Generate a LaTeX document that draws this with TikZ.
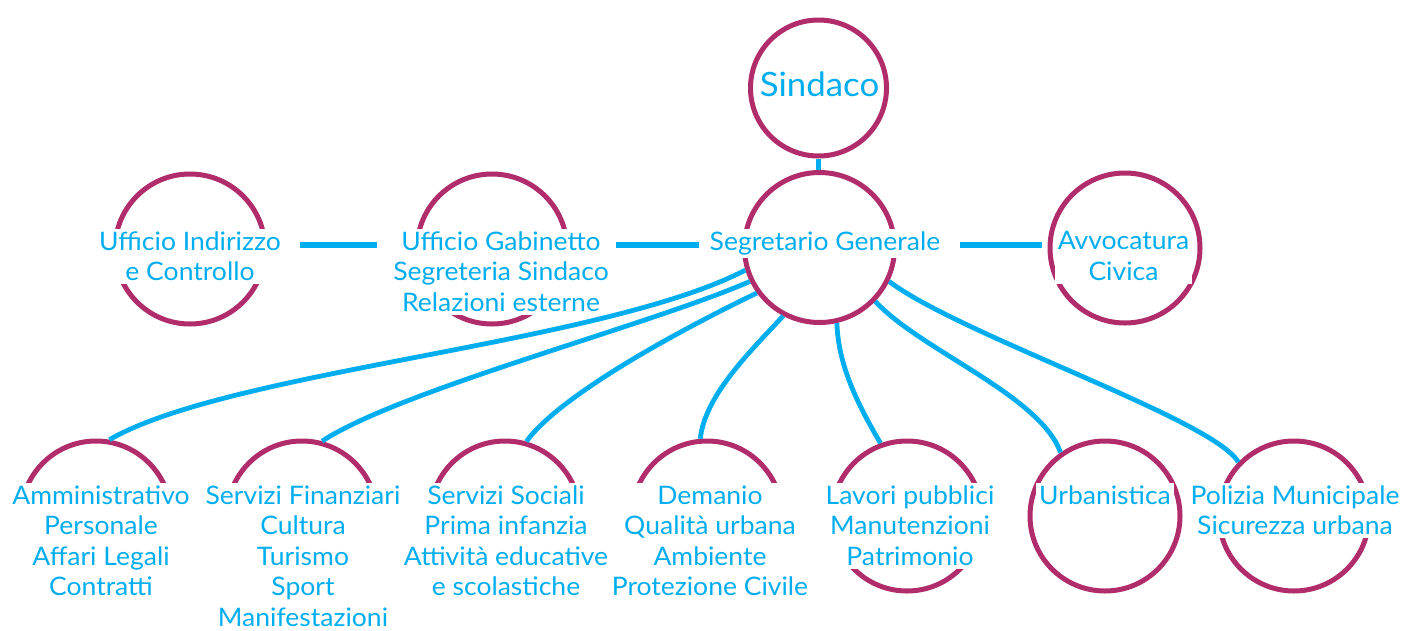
\documentclass[tikz,border=0pt]{standalone}
\usepackage{fontspec}
\setmainfont[FakeStretch=1.04]{Lato}
\usetikzlibrary{calc}
\definecolor{mag}{HTML}{B12C6A}
\definecolor{cy}{HTML}{00AEEF}
\pgfdeclarelayer{bg}
\pgfdeclarelayer{fg}
\pgfsetlayers{bg,main,fg}
\begin{document}
\begin{tikzpicture}[x=1pt,y=-1pt,
  ring/.style={circle,draw=mag,line width=5pt,fill=white,minimum size=150pt,inner sep=0pt},
  lbl/.style={fill=white,text=cy,align=center,inner sep=3pt,font=\fontsize{25.5}{30.5}\selectfont,anchor=north},
  link/.style={draw=cy,line width=4.8pt},
  hlink/.style={draw=cy,line width=5.5pt},
]
\useasboundingbox (0,0) rectangle (1401,630);
% circles
\node[ring,minimum size=136pt] (sin) at (818.5,88) {};
\node[ring] (sg) at (819.5,247.5) {};
\node[ring] (ind) at (190,249) {};
\node[ring] (gab) at (492,249) {};
\node[ring] (av) at (1125,248) {};
\node[ring] (am) at (96,516) {};
\node[ring] (fi) at (302,516) {};
\node[ring] (so) at (505,516) {};
\node[ring] (de) at (707,516) {};
\node[ring] (la) at (907,516) {};
\node[ring] (ur) at (1105,516) {};
\node[ring] (po) at (1294,516) {};
% labels
\node[text=cy,font=\fontsize{33.5}{40}\selectfont,anchor=base] (tsin) at (819.5,96.7) {Sindaco};
\node[lbl] (tind) at (190,228.4) {Ufficio Indirizzo\\e Controllo};
\node[lbl] (tgab) at (501,228.4) {Ufficio Gabinetto\\Segreteria Sindaco\\Relazioni esterne};
\node[lbl] (tsg) at (825,228.4) {Segretario Generale};
\node[lbl] (tav) at (1123.5,228.4) {Avvocatura\\Civica};
\node[lbl] (tam) at (101,482.4) {Amministrativo\\Personale\\Affari Legali\\Contratti};
\node[lbl] (tfi) at (303,482.4) {Servizi Finanziari\\Cultura\\Turismo\\Sport\\Manifestazioni};
\node[lbl] (tso) at (506,482.4) {Servizi Sociali\\Prima infanzia\\Attività educative\\e scolastiche};
\node[lbl] (tde) at (710,482.4) {Demanio\\Qualità urbana\\Ambiente\\Protezione Civile};
\node[lbl] (tla) at (910,482.4) {Lavori pubblici\\Manutenzioni\\Patrimonio};
\node[lbl] (tur) at (1105,482.4) {Urbanistica};
\node[lbl] (tpo) at (1295,482.4) {Polizia Municipale\\Sicurezza urbana};
\coordinate (hy) at (0,245);
\begin{pgfonlayer}{bg}
\draw[link] (sin.south) -- (sin.south |- sg.north);
\draw[hlink] ($(tind.east |- hy)+(16,0)$) -- ($(tgab.west |- hy)+(-13,0)$);
\draw[hlink] ($(tgab.east |- hy)+(4,0)$) -- ($(tsg.west |- hy)+(-8,0)$);
\draw[hlink] ($(tsg.east |- hy)+(17,0)$) -- ($(tav.west |- hy)+(-13,0)$);
\end{pgfonlayer}
\begin{pgfonlayer}{fg}
\draw[link] (sg.197.8) .. controls (600,345) and (230,370) .. (am.80);
\draw[link] (sg.206.4) .. controls (650,325) and (400,390) .. (fi.75);
\draw[link] (sg.216.4) .. controls (680,330) and (560,395) .. (so.74);
\draw[link] (sg.242) .. controls (750,352) and (705,395) .. (de.95);
\draw[link] (sg.283.4) .. controls (838,365) and (858,405) .. (la.110);
\draw[link] (sg.316) .. controls (920,350) and (1040,395) .. (ur.125);
\draw[link] (sg.334.6) .. controls (960,335) and (1215,420) .. (po.136);
\end{pgfonlayer}
\end{tikzpicture}
\end{document}
